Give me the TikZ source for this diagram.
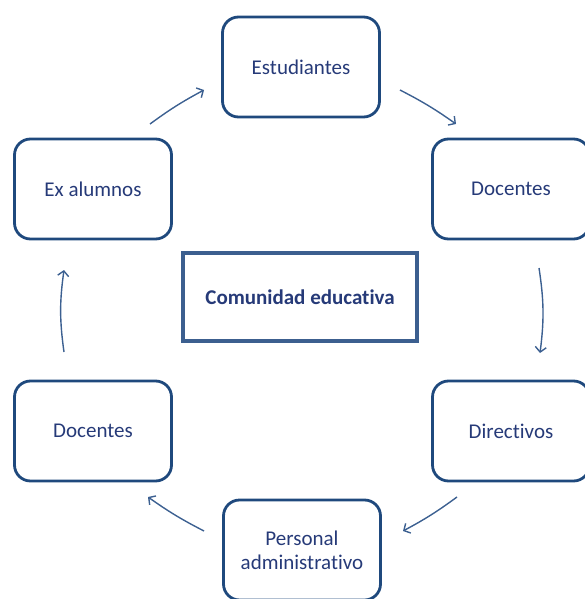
\documentclass[tikz,border=0pt]{standalone}
\usepackage{fontspec}
\setmainfont[Ligatures={NoCommon,NoRare}]{Carlito}
\usetikzlibrary{arrows.meta}
\definecolor{boxblue}{RGB}{31,73,125}
\definecolor{txtblue}{RGB}{38,58,120}
\definecolor{arrblue}{RGB}{60,96,145}
\definecolor{ctrblue}{RGB}{60,95,143}
\tikzset{
  roundbox/.style={draw=boxblue, line width=2.8pt, rounded corners=16pt, minimum width=157pt, minimum height=100pt, inner sep=0pt, text=txtblue, font=\fontsize{21}{24}\selectfont, align=center},
  centerbox/.style={draw=ctrblue, line width=3.2pt, minimum width=234pt, minimum height=88pt, inner sep=0pt, text=txtblue, font=\bfseries\fontsize{21}{24}\selectfont},
  flow/.style={draw=arrblue, line width=1.4pt, -{Straight Barb[length=5pt,width=11pt,line width=1.4pt]}}
}
\begin{document}
\begin{tikzpicture}[x=1pt,y=-1pt]
\useasboundingbox (0,0) rectangle (585,599);
\clip (0,0) rectangle (585,599);
\node[roundbox] (est) at (301,67) {Estudiantes};
\node[roundbox] (doc1) at (511,189) {Docentes};
\node[roundbox] (dir) at (511,431) {Directivos};
\node[roundbox] (per) at (302,550) {Personal\\administrativo};
\node[roundbox] (doc2) at (93,431) {Docentes};
\node[roundbox] (exa) at (93,189) {Ex alumnos};
\node[centerbox] (com) at (300,297) {Comunidad educativa};
\coordinate (a1s) at (150,124); \coordinate (a1e) at (204,90);
\coordinate (a2s) at (400,90);  \coordinate (a2e) at (456,124);
\coordinate (a3s) at (539,268); \coordinate (a3e) at (540,353);
\coordinate (a4s) at (457,497); \coordinate (a4e) at (403,531);
\coordinate (a5s) at (204,531); \coordinate (a5e) at (148,497);
\coordinate (a6s) at (64,352);  \coordinate (a6e) at (64,270);
\draw[flow] (a1s) to[bend left=4] (a1e);
\draw[flow] (a2s) to[bend left=4] (a2e);
\draw[flow] (a3s) to[bend left=8] (a3e);
\draw[flow] (a4s) to[bend left=4] (a4e);
\draw[flow] (a5s) to[bend left=4] (a5e);
\draw[flow] (a6s) to[bend left=8] (a6e);
\end{tikzpicture}
\end{document}
